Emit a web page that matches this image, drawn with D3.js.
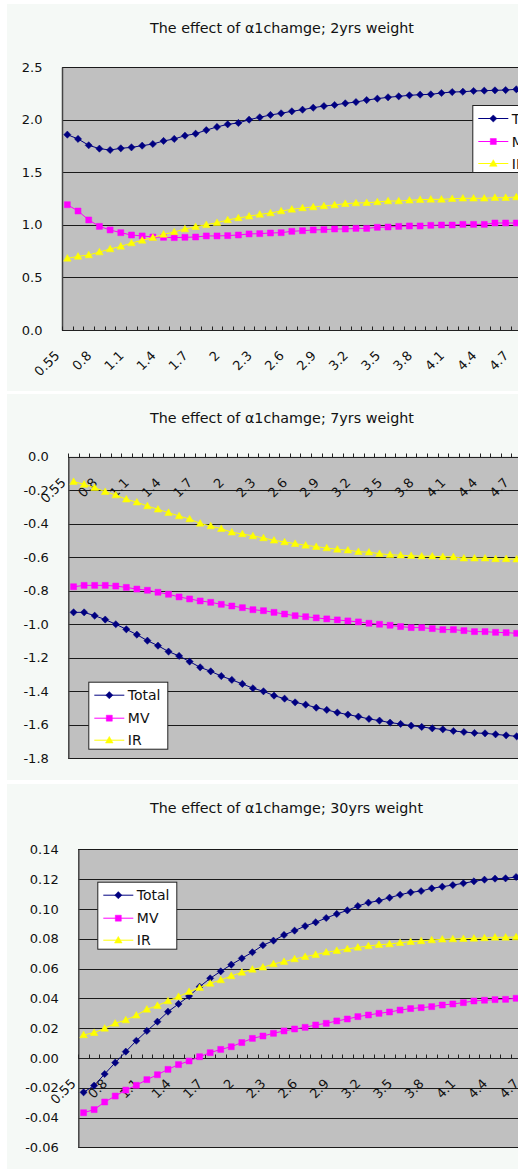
<!DOCTYPE html>
<html><head><meta charset="utf-8">
<script src="https://cdn.jsdelivr.net/npm/d3@7"></script>
<style>html,body{margin:0;padding:0;background:#fff}svg{display:block}</style>
</head><body><svg id="c" width="518" height="1169"></svg>
<script>
// ---------- data ----------
const categories = ["0.55","0.6","0.7","0.8","0.9","1","1.1","1.2","1.3","1.4","1.5","1.6","1.7","1.8","1.9","2",
  "2.1","2.2","2.3","2.4","2.5","2.6","2.7","2.8","2.9","3","3.1","3.2","3.3","3.4","3.5","3.6","3.7","3.8","3.9",
  "4","4.1","4.2","4.3","4.4","4.5","4.6","4.7"];
const seriesNames = ["Total","MV","IR"];
const titles = ["The effect of \u03b11chamge; 2yrs weight","The effect of \u03b11chamge; 7yrs weight","The effect of \u03b11chamge; 30yrs weight"];

const total2 = [1.857,1.816,1.756,1.724,1.711,1.727,1.736,1.752,1.768,1.797,1.816,1.847,1.866,1.900,1.930,1.955,1.968,1.999,2.022,2.044,2.060,2.079,2.094,2.113,2.129,2.139,2.155,2.167,2.186,2.199,2.212,2.221,2.231,2.237,2.240,2.253,2.262,2.265,2.272,2.275,2.278,2.281,2.288];
const mv2 = [1.191,1.131,1.046,0.985,0.951,0.925,0.903,0.894,0.884,0.881,0.878,0.881,0.884,0.894,0.894,0.897,0.903,0.913,0.916,0.922,0.925,0.938,0.944,0.951,0.954,0.960,0.960,0.966,0.966,0.976,0.979,0.985,0.989,0.989,0.995,0.998,0.998,1.004,1.004,1.004,1.017,1.017,1.017];
const ir2 = [0.681,0.700,0.713,0.741,0.770,0.795,0.827,0.852,0.878,0.909,0.932,0.960,0.982,1.001,1.020,1.046,1.065,1.081,1.099,1.112,1.131,1.147,1.160,1.169,1.179,1.188,1.201,1.207,1.210,1.217,1.226,1.226,1.233,1.239,1.242,1.242,1.248,1.252,1.252,1.252,1.258,1.258,1.264];

const total7 = [-0.929,-0.929,-0.949,-0.972,-1.000,-1.030,-1.062,-1.098,-1.128,-1.163,-1.189,-1.223,-1.257,-1.281,-1.309,-1.332,-1.356,-1.382,-1.400,-1.426,-1.444,-1.466,-1.480,-1.498,-1.511,-1.527,-1.539,-1.551,-1.565,-1.575,-1.587,-1.595,-1.605,-1.613,-1.621,-1.627,-1.637,-1.643,-1.649,-1.651,-1.657,-1.663,-1.669];
const mv7 = [-0.776,-0.768,-0.768,-0.768,-0.772,-0.780,-0.790,-0.797,-0.809,-0.821,-0.837,-0.849,-0.861,-0.869,-0.881,-0.891,-0.901,-0.913,-0.919,-0.929,-0.939,-0.949,-0.955,-0.962,-0.968,-0.974,-0.980,-0.986,-0.994,-1.000,-1.006,-1.014,-1.020,-1.020,-1.026,-1.032,-1.032,-1.038,-1.044,-1.044,-1.048,-1.050,-1.054];
const ir7 = [-0.149,-0.165,-0.185,-0.209,-0.229,-0.254,-0.272,-0.294,-0.314,-0.334,-0.354,-0.372,-0.398,-0.414,-0.430,-0.451,-0.461,-0.473,-0.485,-0.499,-0.509,-0.519,-0.529,-0.537,-0.545,-0.553,-0.558,-0.567,-0.570,-0.579,-0.585,-0.588,-0.591,-0.594,-0.594,-0.597,-0.598,-0.606,-0.606,-0.606,-0.610,-0.610,-0.612];

const total30 = [-0.0231,-0.0186,-0.0108,-0.0032,0.0042,0.0115,0.0181,0.0243,0.0310,0.0362,0.0415,0.0478,0.0534,0.0581,0.0626,0.0668,0.0709,0.0756,0.0787,0.0825,0.0854,0.0885,0.0910,0.0939,0.0966,0.0990,0.1019,0.1042,0.1055,0.1075,0.1095,0.1111,0.1120,0.1138,0.1149,0.1160,0.1172,0.1185,0.1196,0.1203,0.1205,0.1214];
const mv30 = [-0.0368,-0.0347,-0.0296,-0.0256,-0.0216,-0.0184,-0.0146,-0.0113,-0.0077,-0.0045,-0.0021,0.0008,0.0035,0.0057,0.0075,0.0103,0.0131,0.0147,0.0165,0.0181,0.0194,0.0205,0.0221,0.0232,0.0248,0.0261,0.0277,0.0288,0.0299,0.0308,0.0321,0.0331,0.0337,0.0344,0.0355,0.0362,0.0371,0.0382,0.0387,0.0391,0.0393,0.0400];
const ir30 = [0.0154,0.0169,0.0198,0.0232,0.0254,0.0286,0.0326,0.0351,0.0382,0.0411,0.0444,0.0471,0.0500,0.0523,0.0550,0.0574,0.0594,0.0608,0.0630,0.0646,0.0664,0.0679,0.0693,0.0709,0.0720,0.0731,0.0742,0.0751,0.0760,0.0764,0.0773,0.0780,0.0785,0.0791,0.0796,0.0798,0.0800,0.0802,0.0805,0.0809,0.0809,0.0811];

const yTicks2 = [0, 0.5, 1.0, 1.5, 2.0, 2.5];
const yTicks7 = [0, -0.2, -0.4, -0.6, -0.8, -1.0, -1.2, -1.4, -1.6, -1.8];
const yTicks30 = [0.14, 0.12, 0.10, 0.08, 0.06, 0.04, 0.02, 0, -0.02, -0.04, -0.06];
const xLabelEvery = 3;

// ---------- layout / style ----------
const FONT = "'DejaVu Sans', 'Liberation Sans', sans-serif";
const color = {Total:"#000080", MV:"#ff00ff", IR:"#ffff00"};
const markerPath = {
  Total: "M0,-3.6L3.6,0L0,3.6L-3.6,0Z",
  MV: "M-3,-3H3V3H-3Z",
  IR: "M0,-3.8L3.8,2.8H-3.8Z"
};

const panels = [
  {bgTop:4, bgBottom:391, title:titles[0], left:62, top:67, bottom:330, band:10.69,
   yDomain:[0,2.5], ticks:yTicks2, fmt:".1f", data:[total2,mv2,ir2], legend:{x:472.3,y:105}},
  {bgTop:394, bgBottom:780, title:titles[1], left:68.3, top:456.7, bottom:758.3, band:10.55,
   yDomain:[-1.8,0], ticks:yTicks7, fmt:".1f", data:[total7,mv7,ir7], legend:{x:88.3,y:681.7}},
  {bgTop:784, bgBottom:1169, title:titles[2], left:78.3, top:849.3, bottom:1147.3, band:10.55,
   yDomain:[-0.06,0.14], ticks:yTicks30, fmt:".2f", data:[total30,mv30,ir30], legend:{x:97.3,y:881.7}}
];

const svg = d3.select("#c");
svg.append("rect").attr("width",518).attr("height",1169).attr("fill","#ffffff");

panels.forEach(p => {
  const g = svg.append("g");
  g.append("rect").attr("x",7).attr("y",p.bgTop).attr("width",518).attr("height",p.bgBottom-p.bgTop)
    .attr("fill","#f5f9f6");

  g.append("text").attr("x",150).attr("y",p.bgTop+29).attr("font-family",FONT).attr("font-size",14.3)
    .attr("fill","#111").text(p.title);

  const x = d3.scaleBand().domain(categories).range([p.left, p.left + categories.length*p.band]);
  const y = d3.scaleLinear().domain(p.yDomain).range([p.bottom, p.top]);
  const right = x.range()[1];

  g.append("rect").attr("x",p.left).attr("y",p.top).attr("width",right-p.left).attr("height",p.bottom-p.top)
    .attr("fill","#c0c0c0");

  // gridlines
  g.append("g").selectAll("line").data(p.ticks).join("line")
    .attr("x1",p.left).attr("x2",right)
    .attr("y1",d=>Math.round(y(d))+0.5).attr("y2",d=>Math.round(y(d))+0.5)
    .attr("stroke","#1a1a1a").attr("stroke-width",1).attr("shape-rendering","crispEdges");

  // y axis
  const ya = d3.axisLeft(y).tickValues(p.ticks).tickFormat(d3.format(p.fmt)).tickSize(0).tickPadding(19.5);
  const yg = g.append("g").attr("transform",`translate(${p.left},0)`).call(ya);
  yg.select(".domain").attr("stroke","#444").attr("stroke-width",1.5);
  yg.selectAll("text").attr("font-family",FONT).attr("font-size",13).attr("fill","#111")
    .text(d => d3.format(p.fmt)(d).replace("\u2212","-"));

  // x axis at y=0
  const y0 = Math.round(y(0))+0.5;
  g.append("line").attr("x1",p.left).attr("x2",right).attr("y1",y0).attr("y2",y0)
    .attr("stroke","#222").attr("stroke-width",1.2);
  const bounds = d3.range(categories.length+1).map(i => p.left + i*p.band);
  g.append("g").selectAll("line").data(bounds).join("line")
    .attr("x1",d=>Math.round(d)+0.5).attr("x2",d=>Math.round(d)+0.5).attr("y1",y0).attr("y2",y0-4)
    .attr("stroke","#222").attr("stroke-width",1);
  g.append("g").selectAll("text").data(categories.filter((c,i)=>i%xLabelEvery===0)).join("text")
    .attr("transform",d=>`translate(${x(d)+x.bandwidth()/2-7},${y0+26}) rotate(-45)`)
    .attr("text-anchor","end").attr("font-family",FONT).attr("font-size",13).attr("fill","#111")
    .text(d=>d);

  // series
  seriesNames.forEach((name,si) => {
    const vals = p.data[si];
    const pts = vals.map((v,i)=>[x(categories[i])+x.bandwidth()/2, y(v)]);
    g.append("path").attr("d",d3.line()(pts)).attr("fill","none").attr("stroke",color[name]).attr("stroke-width",1);
    g.append("g").selectAll("path").data(pts).join("path")
      .attr("transform",d=>`translate(${d[0]},${d[1]})`).attr("d",markerPath[name])
      .attr("fill",color[name]).attr("stroke",color[name]).attr("stroke-width",0.5);
  });

  // legend
  const L = p.legend;
  g.append("rect").attr("x",L.x+0.5).attr("y",L.y+0.5).attr("width",79).attr("height",67)
    .attr("fill","#fff").attr("stroke","#222").attr("stroke-width",1);
  seriesNames.forEach((name,si) => {
    const ry = L.y + [13.5,36.5,58.5][si];
    g.append("line").attr("x1",L.x+6).attr("x2",L.x+36).attr("y1",ry).attr("y2",ry)
      .attr("stroke",color[name]).attr("stroke-width",1);
    g.append("path").attr("transform",`translate(${L.x+21},${ry})`).attr("d",markerPath[name])
      .attr("fill",color[name]).attr("stroke",color[name]).attr("stroke-width",0.5);
    g.append("text").attr("x",L.x+39.5).attr("y",ry+5).attr("font-family",FONT).attr("font-size",14)
      .attr("fill","#111").text(name);
  });
});
</script></body></html>
